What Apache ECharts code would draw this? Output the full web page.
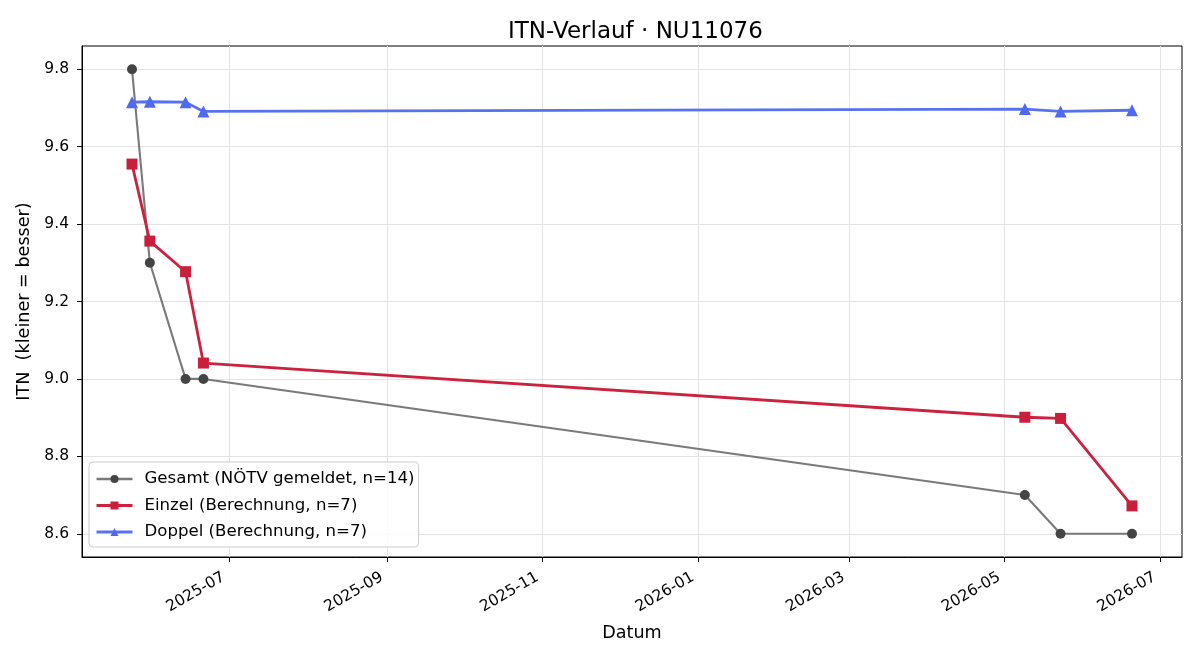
<!DOCTYPE html>
<html>
<head>
<meta charset="utf-8">
<script src="https://cdn.jsdelivr.net/npm/echarts@6/dist/echarts.min.js"></script>
<style>html,body{margin:0;padding:0;background:#fff}#c{width:1200px;height:660px}</style>
</head>
<body>
<div id="c"></div>
<script>
const dates = ['2025-05-24','2025-05-31','2025-06-14','2025-06-21','2026-05-09','2026-05-23','2026-06-20'];
const gesamt = [9.8, 9.3, 9.0, 9.0, 8.7, 8.6, 8.6];
const einzel = [9.555, 9.356, 9.277, 9.041, 8.901, 8.898, 8.672];
const doppel = [9.715, 9.716, 9.715, 9.691, 9.697, 9.691, 9.694];
const xTicks = ['2025-07-01','2025-09-01','2025-11-01','2026-01-01','2026-03-01','2026-05-01','2026-07-01'];
const yTicks = [8.6, 8.8, 9.0, 9.2, 9.4, 9.6, 9.8];
const seriesNames = ['Gesamt (NÖTV gemeldet, n=14)','Einzel (Berechnung, n=7)','Doppel (Berechnung, n=7)'];

const ts = d => Date.parse(d + 'T00:00:00Z');
const xs = dates.map(ts);
const xr = xs[xs.length-1] - xs[0];
const xMin = xs[0] - 0.05*xr, xMax = xs[xs.length-1] + 0.05*xr;
const all = gesamt.concat(einzel, doppel);
const yLo = Math.min(...all), yHi = Math.max(...all), yr = yHi - yLo;
const yMin = yLo - 0.05*yr, yMax = yHi + 0.05*yr;
const pair = arr => arr.map((v,i)=>[xs[i], v]);
const font = 'DejaVu Sans';

const chart = echarts.init(document.getElementById('c'), null, {renderer:'canvas'});
chart.setOption({
  animation:false,
  backgroundColor:'#fff',
  title:{text:'ITN-Verlauf · NU11076', left:503, top:16, textStyle:{fontFamily:font, fontSize:23, fontWeight:'normal', color:'#000'}},
  grid:{left:82, right:18, top:46, bottom:103, show:true, borderColor:'#000', borderWidth:1, containLabel:false},
  legend:{
    orient:'vertical', left:89, top:462, padding:[7,4,5,6], itemGap:6.5,
    itemWidth:36, itemHeight:10,
    backgroundColor:'rgba(255,255,255,0.8)', borderColor:'#cccccc', borderWidth:1, borderRadius:4,
    textStyle:{fontFamily:font, fontSize:16.6, lineHeight:20, color:'#000', padding:[0,0,0,7]},
    data:[
      {name:seriesNames[0], lineStyle:{width:2.3}},
      {name:seriesNames[1], lineStyle:{width:3}},
      {name:seriesNames[2], lineStyle:{width:3}}
    ]
  },
  xAxis:{
    type:'value', min:xMin, max:xMax,
    name:'Datum', nameLocation:'middle', nameGap:67, nameTextStyle:{fontFamily:font, fontSize:17.6, color:'#000'},
    axisLine:{show:true, onZero:false, lineStyle:{color:'#000', width:1}},
    axisTick:{show:true, length:5, lineStyle:{color:'#000'}, customValues:xTicks.map(ts)},
    axisLabel:{rotate:30, fontFamily:font, fontSize:15.5, color:'#000', margin:16, padding:[0,6,0,0], customValues:xTicks.map(ts),
      formatter:v=>{const d=new Date(v); return d.getUTCFullYear()+'-'+String(d.getUTCMonth()+1).padStart(2,'0');}},
    splitLine:{show:true, lineStyle:{color:'#e3e3e3', width:1}}
  },
  yAxis:{
    type:'value', min:yMin, max:yMax,
    name:'ITN  (kleiner = besser)', nameLocation:'middle', nameGap:47, nameTextStyle:{fontFamily:font, fontSize:17.6, color:'#000'},
    axisLine:{show:true, onZero:false, lineStyle:{color:'#000', width:1}},
    axisTick:{show:true, length:5, lineStyle:{color:'#000'}, customValues:yTicks},
    axisLabel:{fontFamily:font, fontSize:15.5, color:'#000', margin:13, customValues:yTicks, formatter:v=>v.toFixed(1)},
    splitLine:{show:true, lineStyle:{color:'#e3e3e3', width:1}}
  },
  series:[
    {name:seriesNames[0], type:'line', data:pair(gesamt), symbol:'circle', symbolSize:10,
      lineStyle:{color:'#7a7a7a', width:2.1}, itemStyle:{color:'#444444'}, z:3},
    {name:seriesNames[1], type:'line', data:pair(einzel), symbol:'rect', symbolSize:11,
      lineStyle:{color:'#cb2240', width:2.8}, itemStyle:{color:'#c91f3d'}, z:4},
    {name:seriesNames[2], type:'line', data:pair(doppel), symbol:'triangle', symbolSize:12,
      lineStyle:{color:'#5872ef', width:2.8}, itemStyle:{color:'#4f6af0'}, z:5}
  ]
});
</script>
</body>
</html>
